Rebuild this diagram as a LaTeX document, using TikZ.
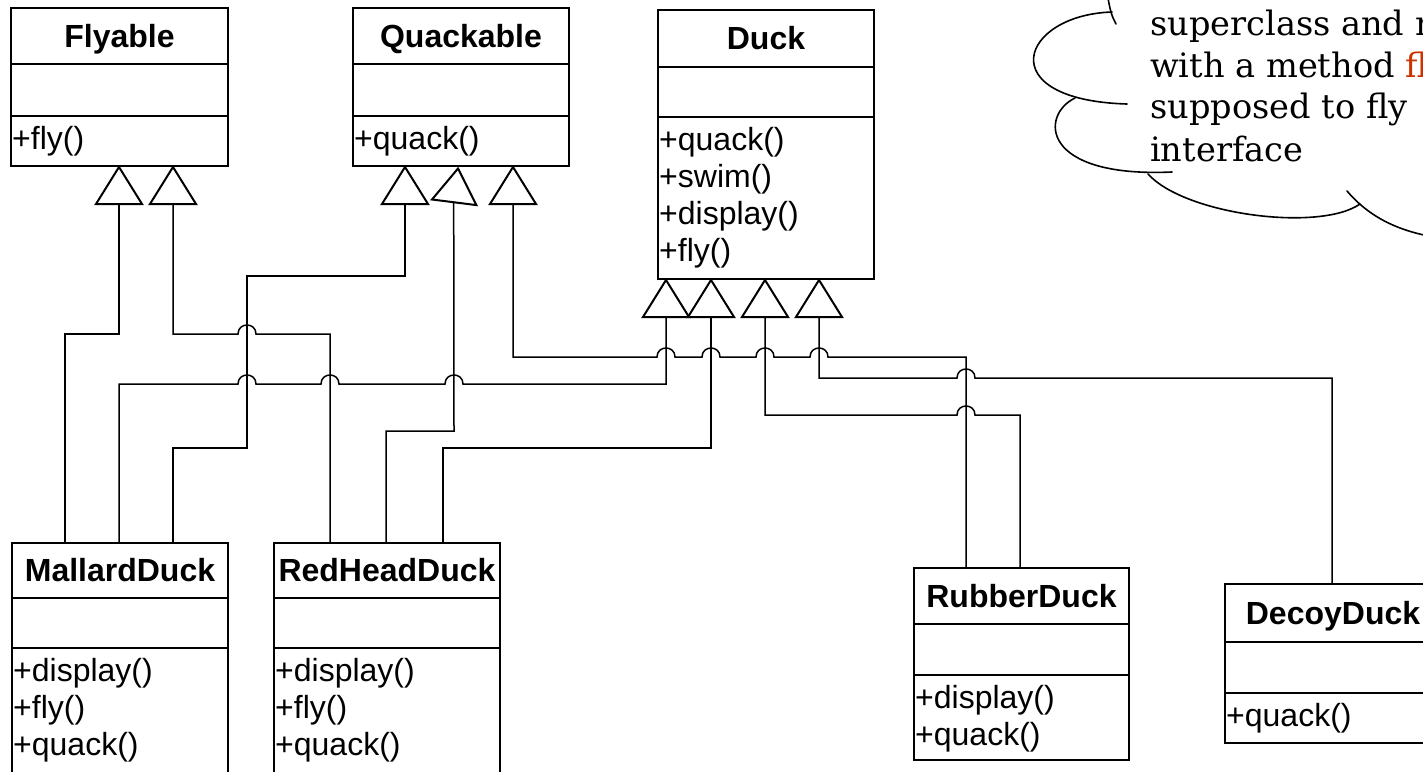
\documentclass[tikz,border=0pt]{standalone}
\usepackage{fontspec}
\setmainfont{Liberation Sans}
\newfontfamily\notefont{DejaVu Serif}
\usetikzlibrary{calc}
\definecolor{notered}{RGB}{204,51,0}

\tikzset{
  classframe/.style={draw, line width=2pt, fill=white, inner sep=0pt},
  classrule/.style={line width=2pt},
  classtitle/.style={font=\fontsize{32}{37}\selectfont\bfseries, inner sep=0pt, anchor=base},
  classop/.style={font=\fontsize{32}{37}\selectfont, inner sep=0pt, anchor=base west},
  conn/.style={line width=1.5pt},
  gentri/.style={line width=2pt, fill=white, line join=miter},
  cloudline/.style={line width=1.6pt, line cap=round},
  notetext/.style={font=\notefont\fontsize{33.6}{42}\selectfont, inner sep=0pt, anchor=base west},
}

% UML class: name, left, top, width, header h, attribute h, operations h, title, operations
\newcommand\umlclass[9]{%
  \node[classframe, anchor=north west, minimum width=#4pt,
        minimum height={(#5+#6+#7)*1pt}] (#1) at (#2,#3) {};
  \draw[classrule] ([yshift=-#5pt]#1.north west) -- ([yshift=-#5pt]#1.north east);
  \draw[classrule] ([yshift={-(#5+#6)*1pt}]#1.north west) -- ([yshift={-(#5+#6)*1pt}]#1.north east);
  \node[classtitle] (#1-title) at ([yshift={-(#5/2+11.5)*1pt}]#1.north) {#8};
  \foreach \op [count=\k] in {#9}
    \node[classop] (#1-op\k) at ([xshift=2pt, yshift={-(#5+#6+33+37*(\k-1))*1pt}]#1.north west) {\op};
}

% generalization triangle: apex, base centre
\newcommand\gentriangle[2]{%
  \draw[gentri] (#1) -- ([xshift=-23pt]#2) -- ([xshift=23pt]#2) -- cycle;
}

\begin{document}
\begin{tikzpicture}[x=1pt,y=-1pt]
\useasboundingbox (0,0) rectangle (1423,771);
\fill[white] (0,0) rectangle (1423,771);
\clip (0,0) rectangle (1423,771);

% ---------- classes ----------
\umlclass{flyable}{10}{7}{217}{57}{52}{49}{Flyable}{+fly()}
\umlclass{quackable}{352}{7}{216}{57}{52}{49}{Quackable}{+quack()}
\umlclass{duck}{657}{9}{216}{58}{50}{161}{Duck}{+quack(),+swim(),+display(),+fly()}
\umlclass{mallard}{11}{542}{216}{56}{50}{125}{MallardDuck}{+display(),+fly(),+quack()}
\umlclass{redhead}{273}{542}{226}{56}{50}{125}{RedHeadDuck}{+display(),+fly(),+quack()}
\umlclass{rubber}{913}{567}{215}{57}{51}{84}{RubberDuck}{+display(),+quack()}
\umlclass{decoy}{1224}{583}{216}{59}{51}{49}{DecoyDuck}{+quack()}

% ---------- attachment points ----------
\coordinate (fly-p1) at ([xshift=109pt]flyable.south west);
\coordinate (fly-p2) at ([xshift=163pt]flyable.south west);
\coordinate (qk-p1)  at ([xshift=53pt]quackable.south west);
\coordinate (qk-p2)  at ([xshift=106pt,yshift=-1.5pt]quackable.south west);
\coordinate (qk-p3)  at ([xshift=161pt]quackable.south west);
\coordinate (dk-p1)  at ([xshift=9pt]duck.south west);
\coordinate (dk-p2)  at ([xshift=54pt]duck.south west);
\coordinate (dk-p3)  at ([xshift=108pt]duck.south west);
\coordinate (dk-p4)  at ([xshift=162pt]duck.south west);

\foreach \p in {fly-p1,fly-p2,qk-p1,qk-p3,dk-p1,dk-p2,dk-p3,dk-p4}
  \coordinate (\p b) at ([yshift=-37pt]\p);
\coordinate (qk-p2b) at ([shift={(-4.3pt,-33.9pt)}]qk-p2);

\coordinate (m1) at ([xshift=54pt]mallard.north west);
\coordinate (m2) at ([xshift=108pt]mallard.north west);
\coordinate (m3) at ([xshift=162pt]mallard.north west);
\coordinate (r1) at ([xshift=57pt]redhead.north west);
\coordinate (r2) at ([xshift=113pt]redhead.north west);
\coordinate (r3) at ([xshift=170pt]redhead.north west);
\coordinate (u1) at ([xshift=53pt]rubber.north west);
\coordinate (u2) at ([xshift=107pt]rubber.north west);
\coordinate (d1) at ([xshift=108pt]decoy.north west);

% ---------- generalization connectors ----------
% MallardDuck -> Flyable
\draw[conn] (m1) |- (119,334) -- (fly-p1b);
% RedHeadDuck -> Flyable
\draw[conn] (r1) |- (256,334) .. controls (256,322) and (238,322) .. (238,334) -| (fly-p2b);
% MallardDuck -> Duck
\draw[conn] (m2) |- (238,384) .. controls (238,372) and (256,372) .. (256,384)
  -- (321,384) .. controls (321,372) and (339,372) .. (339,384)
  -- (445,384) .. controls (445,372) and (463,372) .. (463,384) -| (dk-p1b);
% MallardDuck -> Quackable
\draw[conn] (m3) |- (247,448) |- (405,276) -- (qk-p1b);
% RedHeadDuck -> Quackable
\draw[conn] (r2) |- (454,431) -- (qk-p2b);
% RedHeadDuck -> Duck
\draw[conn] (r3) |- (711,448) -- (dk-p2b);
% RubberDuck -> Quackable
\draw[conn] (u1) |- (828,357) .. controls (828,345) and (810,345) .. (810,357)
  -- (774,357) .. controls (774,345) and (756,345) .. (756,357)
  -- (720,357) .. controls (720,345) and (702,345) .. (702,357)
  -- (675,357) .. controls (675,345) and (657,345) .. (657,357) -| (qk-p3b);
% RubberDuck -> Duck
\draw[conn] (u2) |- (975,415) .. controls (975,403) and (957,403) .. (957,415) -| (dk-p3b);
% DecoyDuck -> Duck
\draw[conn] (d1) |- (975,378) .. controls (975,366) and (957,366) .. (957,378) -| (dk-p4b);

% ---------- hollow triangles ----------
\gentriangle{fly-p1}{fly-p1b}
\gentriangle{fly-p2}{fly-p2b}
\gentriangle{qk-p1}{qk-p1b}
\gentriangle{qk-p3}{qk-p3b}
\draw[gentri] (qk-p2) -- ([shift={(-26pt,-31pt)}]qk-p2) -- ([shift={(18.4pt,-36.6pt)}]qk-p2) -- cycle;
\gentriangle{dk-p1}{dk-p1b}
\gentriangle{dk-p2}{dk-p2b}
\gentriangle{dk-p3}{dk-p3b}
\gentriangle{dk-p4}{dk-p4b}

% ---------- thought cloud ----------
\draw[cloudline] (1108,-2) .. controls (1110,10) and (1112,17) .. (1116,24);
\draw[cloudline] (1112,12) .. controls (1020,15) and (990,100) .. (1127,104);
\draw[cloudline] (1075,98) .. controls (1040,115) and (1040,178) .. (1172,172);
\draw[cloudline] (1148,174) .. controls (1185,215) and (1320,232) .. (1360,204);
\draw[cloudline] (1347,191) .. controls (1370,218) and (1400,232) .. (1440,238);

\node[notetext] (note1) at (1150,35)  {superclass and m};
\node[notetext] (note2) at (1150,77)  {with a method \textcolor{notered}{fl}};
\node[notetext] (note3) at (1150,118) {supposed to fly};
\node[notetext] (note4) at (1150,161) {interface};
\end{tikzpicture}
\end{document}
